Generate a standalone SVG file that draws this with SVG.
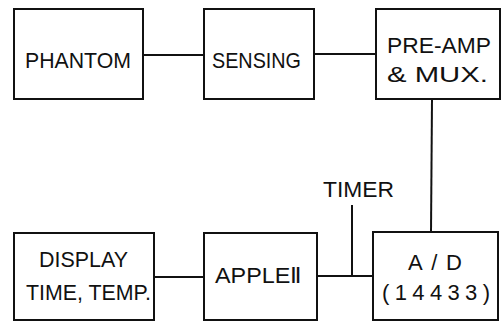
<svg xmlns="http://www.w3.org/2000/svg" width="503" height="322" viewBox="0 0 503 322">
<style>
.box{fill:none;stroke:#111;stroke-width:2}
.ln{fill:none;stroke:#111;stroke-width:2}
text{font-family:"Liberation Sans",Arial,sans-serif;font-size:22px;fill:#111}
</style>
<rect width="503" height="322" fill="#fff"/>
<g id="connectors">
<line class="ln" x1="143" y1="55" x2="204" y2="55"/>
<line class="ln" x1="314" y1="54" x2="376" y2="54"/>
<line class="ln" x1="432" y1="99" x2="431" y2="232"/>
<line class="ln" x1="154" y1="277" x2="204" y2="277"/>
<line class="ln" x1="317" y1="276" x2="373" y2="276"/>
<line class="ln" x1="352" y1="205" x2="352" y2="276"/>
</g>
<g id="phantom">
<rect class="box" x="14" y="9" width="129" height="90"/>
<text x="25" y="68" textLength="106" lengthAdjust="spacingAndGlyphs">PHANTOM</text>
</g>
<g id="sensing">
<rect class="box" x="204" y="9" width="110" height="90"/>
<text x="212" y="68" textLength="89" lengthAdjust="spacingAndGlyphs">SENSING</text>
</g>
<g id="preamp">
<rect class="box" x="376" y="9" width="124" height="90"/>
<text x="387" y="53" textLength="104" lengthAdjust="spacingAndGlyphs">PRE-AMP</text>
<text x="387" y="82" textLength="101" lengthAdjust="spacingAndGlyphs">&amp; MUX.</text>
</g>
<g id="timer">
<text x="323" y="197" textLength="71" lengthAdjust="spacingAndGlyphs">TIMER</text>
</g>
<g id="display">
<rect class="box" x="14" y="233" width="140" height="87"/>
<text x="39" y="267" textLength="89" lengthAdjust="spacingAndGlyphs">DISPLAY</text>
<text x="26" y="300" textLength="125" lengthAdjust="spacingAndGlyphs">TIME, TEMP.</text>
</g>
<g id="apple">
<rect class="box" x="204" y="233" width="113" height="87"/>
<text x="215" y="283" textLength="87" lengthAdjust="spacingAndGlyphs">APPLEⅡ</text>
</g>
<g id="ad">
<rect class="box" x="373" y="232" width="125" height="88"/>
<text x="408" y="270" textLength="54" lengthAdjust="spacing">A/D</text>
<text x="382" y="300" textLength="108" lengthAdjust="spacing">(14433)</text>
</g>
</svg>
